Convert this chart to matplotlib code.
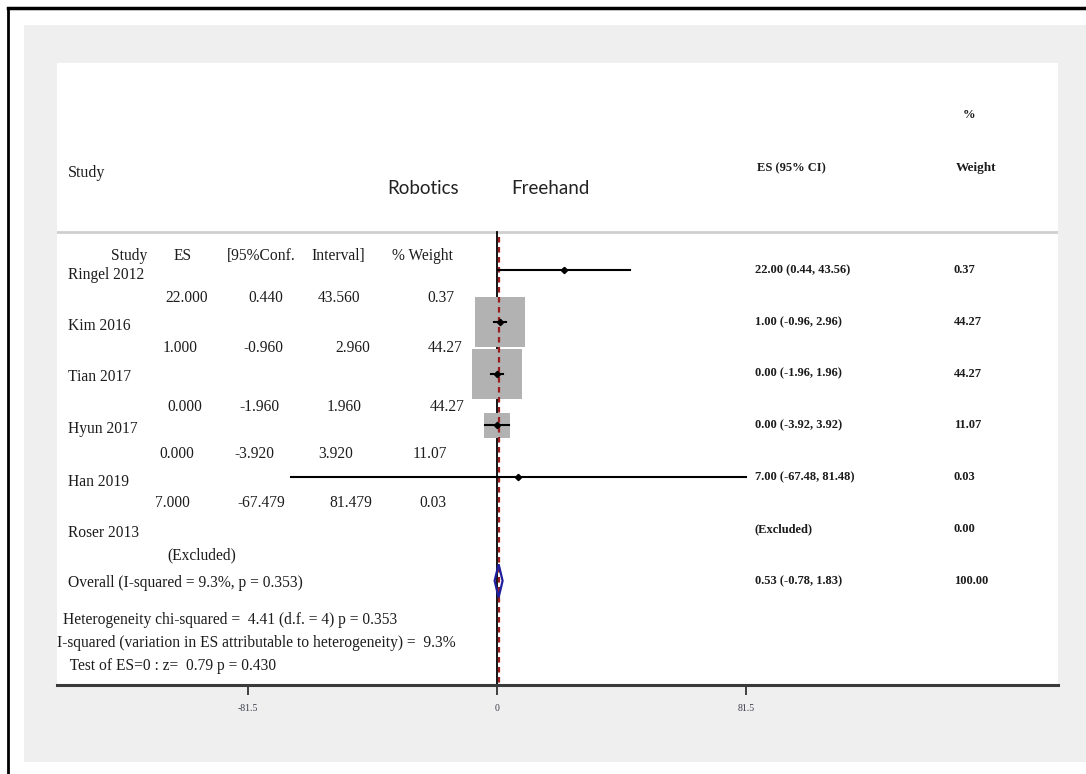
import matplotlib
matplotlib.use("Agg")
import matplotlib.pyplot as plt
from matplotlib.lines import Line2D
from matplotlib.patches import Rectangle, Polygon

# ---- study data ----
studies = ["Ringel 2012", "Kim 2016", "Tian 2017", "Hyun 2017", "Han 2019", "Roser 2013"]
es = [22.0, 1.0, 0.0, 0.0, 7.0, None]
ci_lo = [0.44, -0.96, -1.96, -3.92, -67.479, None]
ci_hi = [43.56, 2.96, 1.96, 3.92, 81.479, None]
weights = [0.37, 44.27, 44.27, 11.07, 0.03, 0.00]

overall_es = 0.53
overall_lo = -0.78
overall_hi = 1.83
overall_label = "Overall (I-squared = 9.3%, p = 0.353)"
stats_lines = [
    "Heterogeneity chi-squared =  4.41 (d.f. = 4) p = 0.353",
    "I-squared (variation in ES attributable to heterogeneity) =  9.3%",
    " Test of ES=0 : z=  0.79 p = 0.430",
]
tick_values = [-81.5, 0, 81.5]
tick_labels = ["-81.5", "0", "81.5"]

W, H = 1086, 774
fig = plt.figure(figsize=(W / 100, H / 100), dpi=100)
fig.patch.set_facecolor("white")

SERIF = ["Liberation Serif", "DejaVu Serif"]
SANS = ["Lato", "DejaVu Sans"]
TXT = "#1c1c1c"
BODY = 11.2
SMALL = 9


def px(x, y):
    return x / W, 1 - y / H


def ftext(x, y, s, size=BODY, ha="left", weight="normal", family=None, color=TXT):
    fig.text(*px(x, y), s, ha=ha, va="center", fontsize=size, fontweight=weight,
             family=family or SERIF, color=color)


# outer frame and grey page
fig.add_artist(Rectangle(px(24, 762), (W - 24) / W, (762 - 25) / H,
                         transform=fig.transFigure, facecolor="#efefef",
                         edgecolor="none", zorder=0))
fig.add_artist(Line2D([8 / W, 1], [1 - 8 / H] * 2, transform=fig.transFigure,
                      color="black", lw=2.5))
fig.add_artist(Line2D([8 / W] * 2, [1 - 8 / H, 0], transform=fig.transFigure,
                      color="black", lw=2.0))

# white plotting panel: left 57, right 1058, top 63, axis line at 685
x0_px, zero_px, x1_px = 57, 497, 1058
top_px, axis_px = 63, 685
unit = 3.06  # pixels per ES unit
row0_px, row_step = 270, 51.8

ax = fig.add_axes([x0_px / W, 1 - axis_px / H, (x1_px - x0_px) / W, (axis_px - top_px) / H])
ax.set_facecolor("white")
ax.set_xlim(-(zero_px - x0_px) / unit, (x1_px - zero_px) / unit)
y_top = (top_px - row0_px) / row_step
y_bot = (axis_px - row0_px) / row_step
ax.set_ylim(y_bot, y_top)
for side in ("top", "left", "right"):
    ax.spines[side].set_visible(False)
ax.spines["bottom"].set_linewidth(2.2)
ax.spines["bottom"].set_color("#3a3a3a")
ax.set_yticks([])
ax.set_xticks(tick_values)
ax.set_xticklabels(tick_labels, fontsize=7, family=SERIF, color="#3a3a4a")
ax.tick_params(axis="x", length=7, width=1.2, direction="out", pad=7, colors="#222222",
               labelcolor="#3a3a4a")

# header separator
header_y = (232 - row0_px) / row_step
ax.axhline(header_y, color="#cfcfcf", lw=2, zorder=1)

# null line and overall-effect line
ax.plot([0, 0], [header_y, y_bot], color="black", lw=1.3, zorder=2)
ax.plot([overall_es, overall_es], [header_y + 0.1, y_bot], color="#9b1c1c", lw=1.6,
        ls=(0, (2.5, 2.0)), zorder=3)

# study boxes, point estimates, confidence intervals
for i, (e, lo, hi, w) in enumerate(zip(es, ci_lo, ci_hi, weights)):
    if e is None:
        continue
    ax.scatter([e], [i], s=29.3 * w, marker="s", color="#b2b2b2", edgecolors="none", zorder=2)
    ax.plot([lo, hi], [i, i], color="black", lw=1.5, zorder=4)
    ax.plot([e], [i], marker="D", ms=3.2, color="black", zorder=5)

# overall diamond
ov = len(studies)
dh = 0.32
ax.add_patch(Polygon([(overall_lo, ov), (overall_es, ov - dh), (overall_hi, ov),
                      (overall_es, ov + dh)], closed=True, facecolor="none",
                     edgecolor="#1f1f9e", lw=1.6, zorder=6))

# top header
ftext(68, 173, "Study", size=11.5)
ftext(423, 188, "Robotics", size=13.5, ha="center", family=SANS, color="#222222")
ftext(550, 188, "Freehand", size=13.5, ha="center", family=SANS, color="#222222")
ftext(757, 168, "ES (95% CI)", size=SMALL, weight="bold")
ftext(963, 115, "%", size=SMALL, weight="bold")
ftext(956, 168, "Weight", size=9.5, weight="bold")

# left-hand summary table
ftext(147, 256, "Study", ha="right")
ftext(183, 256, "ES", ha="center")
ftext(227, 256, "[95%Conf.")
ftext(311, 256, "Interval]")
ftext(392, 256, "% Weight")

name_y = [275, 326, 377, 429, 482, 533]
value_y = [298, 348, 407, 454, 503]
value_x = [
    (208, 283, 360, 455),
    (198, 283, 370, 463),
    (202, 279, 362, 465),
    (194, 274, 353, 447),
    (190, 285, 372, 447),
]
for i, name in enumerate(studies):
    ftext(68, name_y[i], name)
for i, y in enumerate(value_y):
    cols = [f"{es[i]:.3f}", f"{ci_lo[i]:.3f}", f"{ci_hi[i]:.3f}", f"{weights[i]:.2f}"]
    for xr, s in zip(value_x[i], cols):
        ftext(xr, y, s, ha="right")
ftext(167, 555, "(Excluded)")
ftext(68, 583, overall_label)
for (x, y), s in zip([(63, 620), (57, 643), (66, 666)], stats_lines):
    ftext(x, y, s)

# right-hand ES and weight columns
for i in range(len(studies)):
    y = row0_px + row_step * i
    if es[i] is None:
        label = "(Excluded)"
    else:
        label = f"{es[i]:.2f} ({ci_lo[i]:.2f}, {ci_hi[i]:.2f})"
    ftext(755, y, label, size=SMALL, weight="bold")
    ftext(954, y, f"{weights[i]:.2f}", size=SMALL, weight="bold")
y_ov = row0_px + row_step * ov
ftext(755, y_ov, f"{overall_es:.2f} ({overall_lo:.2f}, {overall_hi:.2f})", size=SMALL, weight="bold")
ftext(954, y_ov, f"{100:.2f}", size=SMALL, weight="bold")

fig.savefig("out.png", dpi=100, facecolor="white")
